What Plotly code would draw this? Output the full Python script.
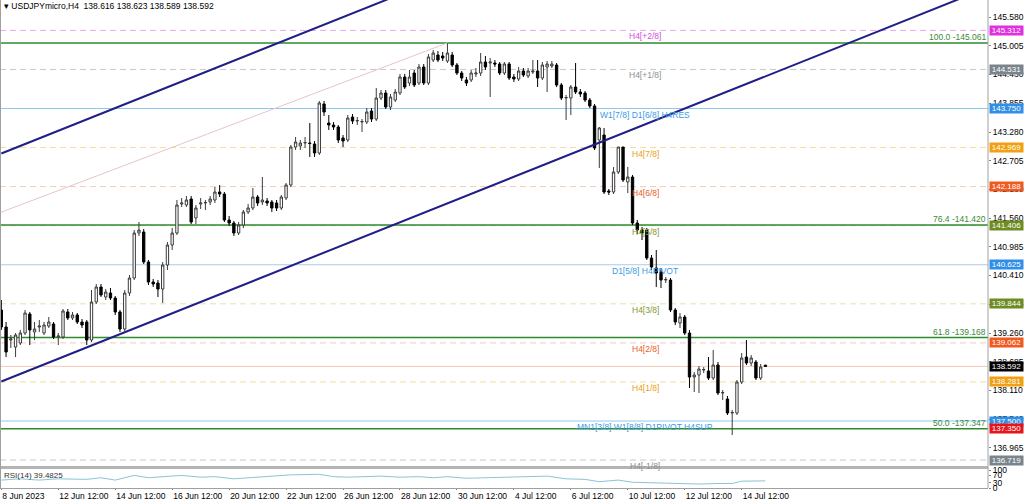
"""USDJPYmicro H4 chart with Murrey levels, fib levels, channel and RSI pane."""

import plotly.graph_objects as go

# ---- candles (bar 0 = 8 Jun 2023, last bar = 14 Jul 2023) ----
opens = [
    139.72, 139.38, 139.12, 138.98, 139.06, 139.26, 139.64, 139.28, 139.38, 139.26,
    139.40, 139.44, 139.18, 139.18, 139.68, 139.56, 139.62, 139.48, 139.48, 139.12,
    139.88, 140.18, 139.98, 140.06, 139.96, 139.68, 139.34, 140.06, 140.36, 141.26,
    141.28, 140.68, 140.28, 140.26, 140.14, 140.62, 141.02, 141.26, 141.84, 141.82,
    141.94, 141.56, 141.84, 141.86, 141.88, 141.92, 142.08, 142.04, 141.52, 141.46,
    141.26, 141.42, 141.68, 141.76, 141.98, 141.88, 141.90, 141.88, 141.86, 141.76,
    141.96, 142.22, 142.98, 143.00, 143.06, 143.06, 143.04, 142.86, 143.84, 143.46,
    143.42, 143.38, 143.16, 143.12, 143.58, 143.50, 143.48, 143.48, 143.70, 143.54,
    143.96, 144.06, 143.78, 143.92, 144.06, 144.38, 144.26, 144.46, 144.26, 144.58,
    144.26, 144.72, 144.82, 144.80, 144.70, 144.82, 144.62, 144.46, 144.32, 144.32,
    144.44, 144.46, 144.68, 144.66, 144.66, 144.64, 144.46, 144.64, 144.38, 144.34,
    144.50, 144.40, 144.48, 144.50, 144.36, 144.58, 144.60, 144.62, 144.22, 143.96,
    143.96, 144.18, 144.08, 144.06, 143.92, 143.80, 143.12, 143.22, 142.10, 142.08,
    142.48, 142.98, 142.28, 142.38, 141.46, 141.32, 141.32, 140.76, 140.56, 140.48,
    140.32, 140.32, 139.72, 139.46, 139.58, 139.26, 138.38, 138.42, 138.52, 138.50,
    138.36, 138.62, 138.06, 137.94, 137.66, 137.66, 138.28, 138.78, 138.66, 138.68,
    138.36, 138.616,
]
highs = [
    139.92, 139.48, 139.22, 139.26, 139.32, 139.72, 139.68, 139.48, 139.52, 139.48,
    139.58, 139.48, 139.26, 139.74, 139.74, 139.68, 139.66, 139.54, 139.52, 140.12,
    140.24, 140.24, 140.14, 140.16, 140.00, 139.72, 140.12, 140.42, 141.32, 141.48,
    141.34, 140.72, 140.34, 140.32, 140.68, 141.08, 141.36, 141.92, 141.96, 142.00,
    142.00, 141.82, 141.96, 141.92, 142.00, 142.18, 142.22, 142.08, 141.60, 141.50,
    141.48, 141.72, 141.84, 142.16, 142.02, 142.38, 141.96, 141.92, 141.92, 142.02,
    142.26, 143.02, 143.18, 143.12, 143.18, 143.46, 143.10, 143.90, 143.90, 143.62,
    143.48, 143.42, 143.22, 143.62, 143.64, 143.58, 143.54, 143.76, 143.76, 144.16,
    144.12, 144.12, 144.04, 144.14, 144.44, 144.44, 144.52, 144.52, 144.64, 144.64,
    144.84, 144.92, 144.90, 144.88, 145.06, 144.88, 144.66, 144.50, 144.38, 144.52,
    144.56, 144.86, 144.80, 144.76, 144.72, 144.68, 144.68, 144.68, 144.44, 144.58,
    144.56, 144.56, 144.72, 144.72, 144.68, 144.70, 144.70, 144.66, 144.26, 144.02,
    144.22, 144.66, 144.14, 144.10, 143.96, 143.84, 143.38, 143.36, 142.14, 142.58,
    142.98, 142.98, 142.58, 142.42, 141.52, 141.38, 141.36, 140.82, 140.92, 140.56,
    140.38, 140.36, 139.76, 139.66, 139.62, 139.32, 138.48, 138.60, 138.58, 138.78,
    138.92, 138.68, 138.12, 138.00, 137.72, 138.32, 138.86, 139.12, 138.82, 138.72,
    138.64, 138.623,
]
lows = [
    139.32, 138.78, 138.96, 138.78, 139.02, 139.22, 139.02, 139.12, 139.28, 139.22,
    139.36, 139.14, 139.02, 139.14, 139.52, 139.52, 139.44, 139.36, 139.02, 139.08,
    139.84, 139.98, 139.92, 139.92, 139.62, 139.28, 139.30, 140.00, 140.32, 141.20,
    140.64, 140.22, 140.18, 139.98, 139.86, 140.52, 140.92, 141.22, 141.78, 141.78,
    141.44, 141.44, 141.74, 141.72, 141.82, 141.86, 141.98, 141.48, 141.40, 141.20,
    141.22, 141.36, 141.64, 141.72, 141.80, 141.82, 141.80, 141.68, 141.70, 141.72,
    141.92, 142.18, 142.92, 142.92, 142.96, 142.78, 142.78, 142.82, 143.60, 143.32,
    143.32, 143.06, 142.98, 143.08, 143.44, 143.42, 143.28, 143.44, 143.48, 143.50,
    143.92, 143.74, 143.72, 143.88, 144.02, 144.14, 144.20, 144.18, 144.22, 144.22,
    144.22, 144.68, 144.68, 144.70, 144.66, 144.58, 144.42, 144.30, 144.20, 144.28,
    144.38, 144.40, 144.52, 143.98, 144.58, 144.42, 144.42, 144.32, 144.28, 144.30,
    144.38, 144.36, 144.44, 144.18, 144.32, 144.08, 144.56, 144.18, 143.92, 143.52,
    143.62, 144.04, 143.98, 143.88, 143.76, 142.92, 142.56, 142.04, 142.02, 142.04,
    142.44, 142.28, 142.06, 141.42, 141.24, 141.12, 140.72, 140.52, 140.18, 140.16,
    140.26, 139.68, 139.42, 139.36, 139.22, 138.16, 138.08, 138.06, 138.46, 138.32,
    138.32, 138.02, 137.92, 137.62, 137.22, 137.62, 138.24, 138.62, 138.60, 138.32,
    138.32, 138.589,
]
closes = [
    139.38, 138.88, 139.14, 139.22, 139.26, 139.66, 139.32, 139.34, 139.40, 139.42,
    139.48, 139.18, 139.20, 139.70, 139.56, 139.62, 139.48, 139.42, 139.12, 139.88,
    140.18, 140.02, 140.08, 139.96, 139.68, 139.34, 140.06, 140.36, 141.26, 141.32,
    140.68, 140.28, 140.24, 140.14, 140.62, 141.02, 141.26, 141.82, 141.86, 141.92,
    141.48, 141.76, 141.86, 141.87, 141.94, 142.08, 142.04, 141.52, 141.46, 141.26,
    141.42, 141.68, 141.76, 141.98, 141.86, 141.92, 141.86, 141.76, 141.76, 141.98,
    142.22, 142.98, 143.08, 143.06, 143.07, 143.05, 142.86, 143.86, 143.68, 143.42,
    143.38, 143.12, 143.10, 143.56, 143.50, 143.51, 143.49, 143.68, 143.54, 143.96,
    144.06, 143.78, 143.98, 144.08, 144.38, 144.18, 144.38, 144.22, 144.58, 144.26,
    144.78, 144.86, 144.72, 144.76, 144.86, 144.62, 144.46, 144.36, 144.26, 144.46,
    144.46, 144.68, 144.58, 144.68, 144.64, 144.46, 144.64, 144.36, 144.34, 144.50,
    144.42, 144.50, 144.50, 144.36, 144.62, 144.64, 144.64, 144.22, 143.96, 143.97,
    144.18, 144.08, 144.04, 143.92, 143.80, 142.96, 143.36, 142.08, 142.08, 142.48,
    142.98, 142.32, 142.38, 141.46, 141.32, 141.26, 140.76, 140.58, 140.46, 140.32,
    140.33, 139.72, 139.48, 139.58, 139.26, 138.38, 138.42, 138.54, 138.53, 138.36,
    138.62, 138.06, 138.07, 137.66, 137.67, 138.28, 138.76, 138.66, 138.76, 138.36,
    138.58, 138.592,
]

# time axis labels (bar index -> text)
tick_bars = [0, 12, 24, 36, 48, 60, 72, 84, 96, 108, 120, 132, 144, 156]
tick_text = [
    "8 Jun 2023", "12 Jun 12:00", "14 Jun 12:00", "16 Jun 12:00", "20 Jun 12:00",
    "22 Jun 12:00", "26 Jun 12:00", "28 Jun 12:00", "30 Jun 12:00", "4 Jul 12:00",
    "6 Jul 12:00", "10 Jul 12:00", "12 Jul 12:00", "14 Jul 12:00",
]
price_ticks = [
    145.580, 145.005, 144.430, 143.855, 143.280, 142.705, 142.130, 141.560,
    140.985, 140.410, 139.835, 139.260, 138.685, 138.110, 137.540, 136.965,
]

# Murrey / pivot levels
level_prices = [145.312, 144.531, 143.750, 142.969, 142.188, 141.406,
                140.625, 139.844, 139.062, 138.281, 137.500, 136.719]
level_names = ["H4[+2/8]", "H4[+1/8]", "W1[7/8] D1[6/8] H4RES", "H4[7/8]",
               "H4[6/8]", "H4[5/8]", "D1[5/8] H4PIVOT", "H4[3/8]", "H4[2/8]",
               "H4[1/8]", "MN1[3/8] W1[8/8] D1PIVOT H4SUP", "H4[-1/8]"]

# Fibonacci retracement levels
fib_pct = ["100.0", "76.4", "61.8", "50.0"]
fib_prices = [145.061, 141.420, 139.168, 137.347]

# trend channel / trendline anchor points (bar index, price)
upper_channel_bars, upper_channel_prices = [0, 90], [142.85, 146.26]
lower_channel_bars, lower_channel_prices = [0, 210], [138.29, 146.25]
peak_line_bars, peak_line_prices = [-2, 94], [141.605, 145.061]

# RSI(14) readings
rsi_bars = [0, 3, 4, 8, 12, 18, 21, 24, 28, 31, 35, 38, 42, 45, 49, 52, 57, 61,
            67, 70, 73, 77, 80, 84, 88, 91, 94, 98, 102, 105, 109, 112, 115,
            119, 123, 126, 130, 133, 137, 140, 144, 147, 151, 154, 156, 158, 161]
rsi_vals = [44, 50, 51, 44, 51, 48, 57, 44, 70, 57, 63, 70, 60, 63, 51, 57, 63,
            73, 76, 63, 60, 63, 66, 60, 63, 57, 63, 54, 57, 57, 60, 63, 66, 51,
            48, 35, 44, 32, 29, 25, 22, 22, 25, 25, 38, 40, 39.4825]

bid_price = 138.592
extra_box = 137.350

FONT = "Liberation Sans"
W, H = 1024, 500
PLOT_RIGHT = 988  # px where price scale starts
LABEL_CENTER = 645  # px, centre of the level captions

# style per level: (line colour, dash, label colour, box colour)
LEVEL_STYLE = [
    ("#e8a8ec", "6px,4px", "#d44fd8", "#e030e0"),
    ("#c8c8c8", "6px,4px", "#8a9096", "#7a848c"),
    ("#8cc8f4", "solid", "#3d9ae0", "#2f8fe6"),
    ("#f2dca0", "6px,4px", "#eaa020", "#f0a010"),
    ("#f0cdb8", "6px,4px", "#e8602a", "#f05a1e"),
    ("#d8dcb0", "6px,4px", "#7f9a2e", "#6e8c22"),
    ("#a9cde8", "solid", "#3d9ae0", "#2f8fe6"),
    ("#e8e2b0", "6px,4px", "#7f9a2e", "#6e8c22"),
    ("#f0cdb8", "6px,4px", "#e8602a", "#f05a1e"),
    ("#f2dca0", "6px,4px", "#eaa020", "#f0a010"),
    ("#8cc8f4", "solid", "#3d9ae0", "#2f8fe6"),
    ("#c8c8c8", "6px,4px", "#8a9096", "#7a848c"),
]


def px_x(px):
    return px / W


def price_box(fig, price, color, text=None):
    fig.add_annotation(
        x=px_x(PLOT_RIGHT + 1), xref="paper", xanchor="left",
        y=price, yref="y", yanchor="middle",
        text=text or f"{price:.3f}", showarrow=False,
        bgcolor=color, borderpad=0, width=33, align="center",
        font=dict(family=FONT, size=8, color="white"),
    )


fig = go.Figure()

fig.add_trace(go.Candlestick(
    x=list(range(len(opens))), open=opens, high=highs, low=lows, close=closes,
    increasing=dict(line=dict(color="#3c3c3c", width=1), fillcolor="white"),
    decreasing=dict(line=dict(color="black", width=1), fillcolor="black"),
    whiskerwidth=0, hoverinfo="skip", yaxis="y",
))

for bars, prices, color, width in (
    (upper_channel_bars, upper_channel_prices, "#1f1f86", 2),
    (lower_channel_bars, lower_channel_prices, "#1f1f86", 2),
    (peak_line_bars, peak_line_prices, "#e8c4c8", 1),
):
    fig.add_trace(go.Scatter(
        x=bars, y=prices, mode="lines", yaxis="y",
        line=dict(color=color, width=width), hoverinfo="skip",
    ))

fig.add_trace(go.Scatter(
    x=rsi_bars, y=rsi_vals, mode="lines", yaxis="y2",
    line=dict(color="#8cc4d4", width=1), hoverinfo="skip",
))

# horizontal levels
for price, name, (lc, dash, tc, bc) in zip(level_prices, level_names, LEVEL_STYLE):
    fig.add_hline(y=price, line=dict(color=lc, width=1.2 if dash == "solid" else 1,
                                     dash=dash), layer="below")
    fig.add_annotation(
        x=px_x(LABEL_CENTER), xref="paper", xanchor="center",
        y=price, yref="y", yanchor="top",
        text=name, showarrow=False, borderpad=0,
        font=dict(family=FONT, size=8.5, color=tc),
    )
    price_box(fig, price, bc)

for pct, price in zip(fib_pct, fib_prices):
    fig.add_hline(y=price, line=dict(color="#2e8a2e", width=1.5), layer="below")
    fig.add_annotation(
        x=px_x(PLOT_RIGHT - 1), xref="paper", xanchor="right",
        y=price, yref="y", yanchor="bottom", text=f"{pct} -{price:.3f}",
        showarrow=False, borderpad=0,
        font=dict(family=FONT, size=8.5, color="#3a8a3a"),
    )

fig.add_hline(y=bid_price, line=dict(color="#f4c9b4", width=1), layer="below")
price_box(fig, bid_price, "black")
price_box(fig, extra_box, "#e3161e")

# header + RSI caption
fig.add_annotation(
    x=px_x(3), xref="paper", xanchor="left", y=1.0, yref="paper", yanchor="top",
    text="\u25be USDJPYmicro,H4  138.616 138.623 138.589 138.592",
    showarrow=False, borderpad=0, font=dict(family=FONT, size=8.5, color="black"),
)
fig.add_annotation(
    x=px_x(3), xref="paper", xanchor="left", y=1.0, yref="y2 domain",
    yanchor="top", text=f"RSI(14) {rsi_vals[-1]:.4f}",
    showarrow=False, borderpad=0, font=dict(family=FONT, size=8, color="#333333"),
)

# frame: pane separator, right border, left border
fig.add_shape(type="rect", xref="paper", yref="paper", x0=0, x1=px_x(PLOT_RIGHT),
              y0=1 - 469 / H, y1=1 - 466 / H, fillcolor="#b4b4b4", line_width=0)
fig.add_shape(type="line", xref="paper", yref="paper", x0=px_x(PLOT_RIGHT),
              x1=px_x(PLOT_RIGHT), y0=1 - 488 / H, y1=1, line=dict(color="#a0a0a0", width=1))
fig.add_shape(type="line", xref="paper", yref="paper", x0=0.0005, x1=0.0005,
              y0=1 - 488 / H, y1=1, line=dict(color="#a0a0a0", width=1))

fig.update_layout(
    width=W, height=H, margin=dict(l=0, r=0, t=0, b=0, autoexpand=False),
    paper_bgcolor="white", plot_bgcolor="white", showlegend=False,
    hovermode=False, font=dict(family=FONT, size=9, color="black"),
    xaxis=dict(
        domain=[0, px_x(PLOT_RIGHT)], anchor="y2", range=[-0.28, 207.9],
        tickvals=tick_bars, ticktext=tick_text, ticks="outside", ticklen=1,
        tickcolor="#808080", ticklabelposition="outside right", tickangle=0,
        showline=True, linecolor="#a0a0a0", showgrid=False, zeroline=False,
        rangeslider=dict(visible=False), tickfont=dict(size=8.5), automargin=False,
    ),
    yaxis=dict(
        domain=[1 - 466 / H, 1], anchor="x", side="right", range=[136.60, 145.92],
        tickvals=price_ticks, ticktext=[f"{p:.3f}" for p in price_ticks],
        ticks="outside", ticklen=2, tickcolor="#808080", showgrid=False,
        zeroline=False, tickfont=dict(size=8.5), automargin=False,
    ),
    yaxis2=dict(
        domain=[1 - 488 / H, 1 - 470 / H], anchor="x", side="right", range=[0, 100],
        tickvals=[100, 70, 30, 0], ticks="outside", ticklen=2, tickcolor="#808080",
        showgrid=False, zeroline=False, tickfont=dict(size=8.5), automargin=False,
    ),
)

# drop the default page margin so the chart sits at the window's top-left
fig.write_html(
    "out.html",
    config={"displayModeBar": False},
    post_script="document.body.style.margin='0';",
)
